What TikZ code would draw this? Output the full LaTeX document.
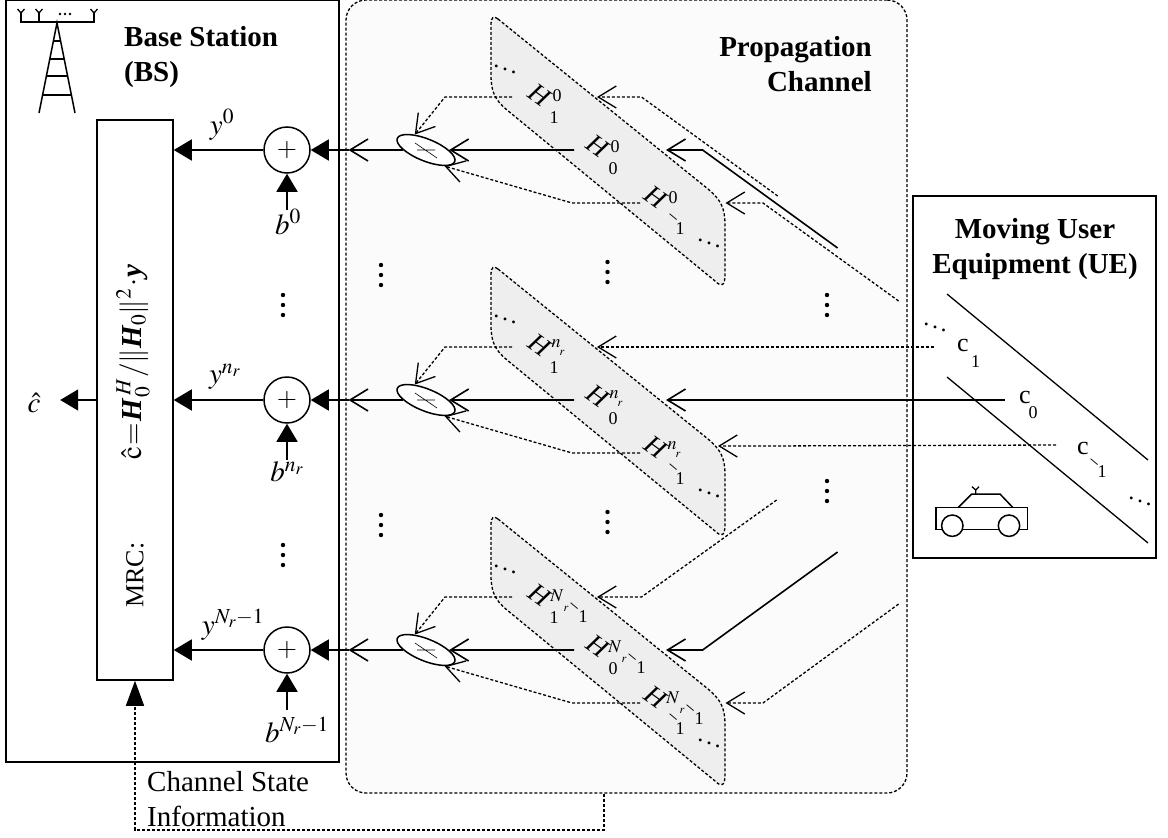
\documentclass[tikz,border=0pt]{standalone}
\usepackage{mathptmx}
\usepackage[no-math]{fontspec}
\setmainfont{Liberation Serif}
\usetikzlibrary{arrows.meta,shapes.geometric}
\definecolor{chanfill}{HTML}{FBFBFB}
\definecolor{panelfill}{HTML}{EEEEEE}
\newcommand{\bigfont}{\fontsize{29}{35}\selectfont}
\newcommand{\bfit}[1]{\textbf{\textit{#1}}}
\newcommand{\vdotsat}[2]{\foreach \k in {-10,0,10}{\fill (#1,#2+\k) circle (2.2pt);}}
\newcommand{\Hcell}[5]{
	\begin{scope}[shift={(#2,#3)}]
		\node[hlabel] (H#1) at (0,0) {\textit{H}};
		#4{#1}
		#5{#1}
	\end{scope}
}
\newcommand{\supzero}[1]{\node[idx] (#1s) at (17,1) {0};}
\newcommand{\supn}[1]{
	\node[idx] (#1s) at (16,-1) {$n$};
	\node[idxsmall] (#1r) at (22,8) {$r$};
}
\newcommand{\supN}[1]{
	\node[idx] (#1s) at (17,1) {$N$};
	\node[idxsmall] (#1r) at (26,14) {$r$};
	\node[idx,rotate=-40] (#1m) at (33,13) {--};
	\node[idx] (#1o) at (43,22) {1};
}
\newcommand{\subone}[1]{\node[idx] (#1b) at (14,23) {1};}
\newcommand{\subzero}[1]{\node[idx] (#1b) at (15,23) {0};}
\newcommand{\submone}[1]{
	\node[idx,rotate=-40] (#1m2) at (16,22) {--};
	\node[idx] (#1b) at (24,32) {1};
}
\tikzset{
	boxline/.style={draw, line width=1.5pt, inner sep=0pt},
	sol/.style={line width=1.6pt},
	dashline/.style={line width=1.3pt, dash pattern=on 3pt off 2pt},
	fwd/.style={-{Triangle[length=18pt,width=21pt]}},
	back/.style={-{Straight Barb[length=18pt,width=22pt]}},
	hlabel/.style={font=\fontsize{27}{27}\selectfont, rotate=-36, inner sep=0pt},
	idx/.style={font=\fontsize{18}{18}\selectfont, inner sep=0pt},
	idxsmall/.style={font=\fontsize{12}{12}\selectfont, inner sep=0pt},
	chip/.style={font=\fontsize{26}{26}\selectfont, inner sep=0pt},
	dotsnode/.style={font=\fontsize{24}{24}\selectfont, inner sep=0pt},
	title/.style={font=\bfseries\fontsize{29}{35.5}\selectfont, align=center, inner sep=0pt},
	sumnode/.style={circle, boxline, fill=white, minimum size=46pt, font=\fontsize{26}{26}\selectfont},
	combiner/.style={ellipse, boxline, fill=white, minimum width=62pt, minimum height=22pt, rotate=-22},
	lab/.style={font=\bigfont, inner sep=0pt}
}
\begin{document}
\begin{tikzpicture}[x=1pt,y=-1pt]
	\useasboundingbox (0,0) rectangle (1168,838);
	\node[boxline, minimum width=333pt, minimum height=762pt] (bs) at (172.5,381) {};
	\node[dashline, draw, fill=chanfill, rounded corners=20pt, minimum width=561pt, minimum height=793pt] (chan) at (626.5,396.5) {};
	\node[boxline, fill=white, minimum width=243pt, minimum height=362pt] (ue) at (1034.5,377) {};
	\node[boxline, fill=white, minimum width=76pt, minimum height=560pt] (mrc) at (135,400) {};

	\node[title, align=left, anchor=west] (bstitle) at (124,57) {Base Station\\(BS)};
	\node[title, align=right, anchor=east] (chantitle) at (872,64) {Propagation\\Channel};
	\node[title] (uetitle) at (1035,249) {Moving User\\Equipment (UE)};

	\node[lab, rotate=90] (mrcformula) at (133,362) {$\thickmuskip=1mu\medmuskip=1mu\hat{\mathrm{c}}=\bfit{H}_{0}^{\,H}/\|\bfit{H}_{0}\|^{2}\cdot\bfit{y}$};
	\node[lab, rotate=90, font=\fontsize{26}{26}\selectfont] (mrcname) at (135,575) {MRC:};
	\node[lab, minimum width=52pt] (chat) at (34,403) {$\hat{c}$};

	\foreach \row/\ry/\supmac/\ylab/\ylx/\yly/\blx/\bly/\tx/\ty/\mx/\my/\lx/\ly/\ltx/\lty in {
		0/150/\supzero/{y^{0}}/222/125/288/222/777.7/196/837.6/248/898.6/301/725.5/203,
		1/400/\supn/{y^{n_r}}/225/377/287/472/934/347/1005/400/1056/445/718/446,
		2/650/\supN/{y^{N_r-1}}/233/625/297/730/776.6/500/837.6/552/898.6/604/725.5/703}{
		\draw[dashline, fill=panelfill] (498,\ry-131) -- (708,\ry+39) .. controls (721,\ry+50) and (725,\ry+58) .. (725,\ry+75)
			-- (725,\ry+125) .. controls (725,\ry+135) and (722,\ry+138) .. (715,\ry+131)
			-- (507,\ry-40) .. controls (495,\ry-50) and (491,\ry-58) .. (491,\ry-75)
			-- (491,\ry-125) .. controls (491,\ry-134) and (494,\ry-134) .. (498,\ry-131);
		\node[dotsnode] (dotsA\row) at (505,\ry-84) {$\ddots$};
		\node[dotsnode] (dotsB\row) at (709,\ry+90) {$\ddots$};
		\Hcell{a\row}{540}{\ry-55}{\supmac}{\subone}
		\Hcell{b\row}{598}{\ry-4}{\supmac}{\subzero}
		\Hcell{c\row}{656}{\ry+47}{\supmac}{\submone}

		\node[combiner] (cmb\row) at (426,\ry) {};
		\draw[line width=.6pt] (cmb\row)+(-9,0) -- +(9,0) (cmb\row)+(-11,-7) -- +(11,8);
		\node[sumnode] (sum\row) at (287,\ry) {$+$};
		\coordinate (in\row) at (348.5,\ry);
		\coordinate (bn\row) at (287,\ry+60);
		\node[lab] (ylab\row) at (\ylx,\yly) {$\ylab$};
		\node[lab] (blab\row) at (\blx,\bly) {$b\ifnum\row=0 ^{0}\else\ifnum\row=1 ^{n_r}\else ^{N_r-1}\fi\fi$};

		\coordinate (pa\row) at (512,\ry-53);
		\coordinate (ka\row) at (445,\ry-53);
		\coordinate (pb\row) at (574,\ry);
		\coordinate (pc\row) at (640,\ry+53);
		\coordinate (kc\row) at (572,\ry+53);
		\draw[dashline,back] (pa\row) -- (ka\row) -- (cmb\row.148);
		\draw[sol,back] (pb\row) -- (cmb\row);
		\draw[dashline,back] (pc\row) -- (kc\row) -- (cmb\row.-19);
		\draw[sol,back] (cmb\row) -- (in\row);
		\draw[sol,fwd] (in\row) -- (sum\row);
		\draw[sol,fwd] (sum\row) -- (mrc.east |- sum\row);
		\draw[sol,fwd] (bn\row) -- (sum\row);

		\coordinate (ta\row) at (597,\ry-53);
		\coordinate (qa\row) at (641.5,\ry-53);
		\coordinate (ea\row) at (\tx,\ty);
		\coordinate (tb\row) at (666,\ry);
		\coordinate (qb\row) at (702.6,\ry);
		\coordinate (eb\row) at (\mx,\my);
		\coordinate (tc\row) at (\ltx,\lty);
		\coordinate (qc\row) at (763,\lty);
		\coordinate (ec\row) at (\lx,\ly);
		\draw[dashline,back] (ea\row) -- (qa\row) -- (ta\row);
		\draw[sol,back] (eb\row) -- (qb\row) -- (tb\row);
		\draw[dashline,back] (ec\row) -- (qc\row) -- (tc\row);
	}
	\draw[sol,fwd] (mrc.west |- sum1) -- (chat.east |- sum1);

	\vdotsat{283}{305}
	\vdotsat{283}{555}
	\vdotsat{381}{275}
	\vdotsat{381}{525}
	\vdotsat{607.5}{272}
	\vdotsat{607.5}{522}
	\vdotsat{827}{305}
	\vdotsat{827}{491}

	\coordinate (uea) at (947,294);
	\coordinate (ueb) at (1148,460);
	\coordinate (uec) at (947,377);
	\coordinate (ued) at (1148,543);
	\draw[line width=1.3pt] (uea) -- (ueb) (uec) -- (ued);
	\node[dotsnode] (uedotsA) at (935,324) {$\ddots$};
	\node[dotsnode] (uedotsB) at (1140,498) {$\ddots$};
	\node[chip] (cone) at (963,345) {c};
	\node[idx] (conesub) at (975.7,362) {1};
	\node[chip] (czero) at (1025,397) {c};
	\node[idx] (czerosub) at (1033,413) {0};
	\node[chip] (cmone) at (1083,448) {c};
	\node[idx,rotate=-40] (cmonem) at (1093,464) {--};
	\node[idx] (cmonesub) at (1102,472) {1};

	\draw[line width=1.5pt] (936,507.7) rectangle (1027.7,529.3);
	\draw[line width=1.5pt] (958,507.7) -- (971.7,494) -- (1000,494) -- (1013,507.7);
	\draw[line width=1.5pt, fill=white] (952.3,525.7) circle (10.7pt) (1009,525.7) circle (10.7pt);
	\draw[line width=1.3pt] (975.7,494) -- (975.7,490) (972,486.7) -- (975.7,490) -- (979,486.7);

	\draw[line width=1.5pt] (21,13) -- (21,22) -- (94,22) -- (94,13) (39,13) -- (39,22);
	\draw[line width=1.3pt] (17.5,9) -- (21,13) -- (24.5,9) (35.5,9) -- (39,13) -- (42.5,9) (90.5,9) -- (94,13) -- (97.5,9);
	\foreach \dx in {60,65,70}{\fill (\dx,14) circle (1.4pt);}
	\draw[line width=1.5pt] (39,113) -- (57,23) -- (75,113);
	\draw[line width=1.5pt] (53.4,41) -- (60.6,41) (49.8,59) -- (64.2,59) (46.4,76) -- (67.6,76) (42.6,95) -- (71.4,95);

	\coordinate (csia) at (604,830);
	\coordinate (csib) at (135,830);
	\draw[dashline,-{Triangle[length=25pt,width=18pt]}] (chan.south -| csia) -- (csia) -- (csib) -- (mrc.south -| csib);
	\node[lab, align=left, anchor=west] (csi) at (147,799.5) {Channel State\\Information};
\end{tikzpicture}
\end{document}
